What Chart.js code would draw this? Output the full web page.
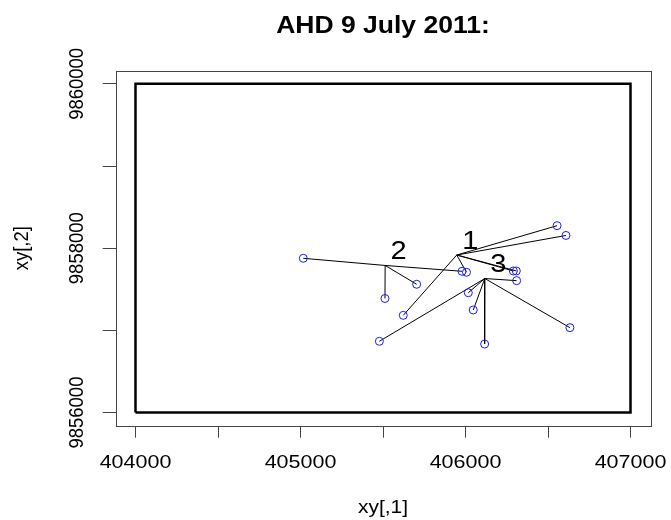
<!DOCTYPE html>
<html><head><meta charset="utf-8">
<script src="https://cdn.jsdelivr.net/npm/chart.js@4.4.0/dist/chart.umd.min.js"></script>
<style>html,body{margin:0;padding:0;background:#fff;}canvas{display:block;}</style>
</head><body>
<canvas id="c" width="671" height="520"></canvas>
<script>
// ---- text ----
const chartTitle = 'AHD 9 July 2011:';
const xAxisTitle = 'xy[,1]';
const yAxisTitle = 'xy[,2]';
// ---- axis ranges / ticks ----
const xRange = [403880, 407120];
const yRange = [9855840, 9860160];
const xTickValues = [404000, 404500, 405000, 405500, 406000, 406500, 407000];
const xTickLabels = [404000, 405000, 406000, 407000];
const yTickValues = [9856000, 9857000, 9858000, 9859000, 9860000];
const yTickLabels = [9856000, 9858000, 9860000];
// ---- bounding rectangle ----
const boxX = [404000, 407000, 407000, 404000, 404000];
const boxY = [9856000, 9856000, 9860000, 9860000, 9856000];
// ---- hubs (cluster centres) ----
const hubLabels = ['1', '2', '3'];
const hubX = [405947, 405513, 406117];
const hubY = [9857917, 9857790, 9857631];
// ---- points and the hub each belongs to ----
const ptX   = [405017, 405512, 405704, 405979, 405623, 406006, 406555, 406609, 406290, 406308, 406310, 406017, 406047, 406116, 406633, 405478];
const ptY   = [9857877, 9857388, 9857561, 9857719, 9857183, 9857707, 9858274, 9858155, 9857723, 9857723, 9857605, 9857458, 9857248, 9856834, 9857033, 9856867];
const ptHub = [1, 1, 1, 1, 0, 0, 0, 0, 0, 0, 2, 2, 2, 2, 2, 2];

const FONT = '"Liberation Sans", Arial, sans-serif';
const SQ = 0.88;

const boxData = boxX.map((x, i) => ({x, y: boxY[i]}));
const pointData = ptX.map((x, i) => ({x, y: ptY[i]}));
const spokeData = [];
ptX.forEach((x, i) => {
  const h = ptHub[i];
  spokeData.push({x: hubX[h], y: hubY[h]});
  spokeData.push({x, y: ptY[i]});
  spokeData.push({x: hubX[h], y: null});
});

function drawText(ctx, s, x, y, font, o) {
  o = o || {};
  ctx.save();
  ctx.translate(x, y);
  ctx.scale(o.sx || 1, o.sy || 1);
  if (o.rot) ctx.rotate(o.rot);
  ctx.font = font;
  ctx.fillStyle = o.color || '#000';
  ctx.textAlign = o.align || 'center';
  ctx.textBaseline = o.base || 'alphabetic';
  ctx.fillText(s, 0, 0);
  ctx.restore();
}

const decor = {
  id: 'decor',
  beforeDatasetsDraw(chart) {
    const {ctx, chartArea: a} = chart;
    ctx.save();
    ctx.strokeStyle = '#444';
    ctx.lineWidth = 1;
    ctx.strokeRect(Math.round(a.left) + 0.5, Math.round(a.top) + 0.5, Math.round(a.right - a.left), Math.round(a.bottom - a.top));
    ctx.restore();
  },
  afterDraw(chart) {
    const {ctx, chartArea: a, scales} = chart;
    const cx = (a.left + a.right) / 2;
    drawText(ctx, chartTitle, cx, 33.3, 'bold 26.5px ' + FONT, {sy: SQ});
    drawText(ctx, xAxisTitle, cx, 513, '21px ' + FONT, {sy: SQ});
    drawText(ctx, yAxisTitle, 27.5, (a.top + a.bottom) / 2, '21px ' + FONT, {sy: SQ, rot: -Math.PI / 2});
    yTickLabels.forEach(v => {
      drawText(ctx, String(v), 83, scales.y.getPixelForValue(v), '21px ' + FONT, {sy: SQ, rot: -Math.PI / 2});
    });
    xTickLabels.forEach(v => {
      drawText(ctx, String(v), scales.x.getPixelForValue(v), 467.5, '21.5px ' + FONT, {sy: SQ});
    });
    hubLabels.forEach((lab, i) => {
      const px = scales.x.getPixelForValue(hubX[i]);
      const py = scales.y.getPixelForValue(hubY[i]);
      drawText(ctx, lab, px + 13.5, py - 6.5, '29px ' + FONT, {sy: SQ});
    });
  }
};

new Chart(document.getElementById('c'), {
  type: 'scatter',
  data: {
    datasets: [
      {data: pointData, showLine: false, pointRadius: 4, pointHoverRadius: 4, pointBorderWidth: 1,
       pointBorderColor: '#1a1aff', pointBackgroundColor: 'rgba(0,0,0,0)', order: 0},
      {data: spokeData, showLine: true, spanGaps: false, pointRadius: 0, borderColor: '#000', borderWidth: 1, order: 1},
      {data: boxData, showLine: true, pointRadius: 0, borderColor: '#000', borderWidth: 2.5, order: 2}
    ]
  },
  options: {
    responsive: false,
    animation: false,
    events: [],
    layout: {padding: {top: 70.7, right: 20.7, left: 0, bottom: 0}},
    plugins: {legend: {display: false}, tooltip: {enabled: false}, title: {display: false}},
    scales: {
      x: {
        type: 'linear', min: xRange[0], max: xRange[1],
        border: {display: false},
        grid: {display: true, drawOnChartArea: false, drawTicks: true, tickLength: 12, color: '#444', lineWidth: 1},
        ticks: {display: false},
        afterBuildTicks: s => { s.ticks = xTickValues.map(v => ({value: v})); },
        afterFit: s => { s.height = 520 - 425.7; }
      },
      y: {
        type: 'linear', min: yRange[0], max: yRange[1],
        border: {display: false},
        grid: {display: true, drawOnChartArea: false, drawTicks: true, tickLength: 13, color: '#444', lineWidth: 1},
        ticks: {display: false},
        afterBuildTicks: s => { s.ticks = yTickValues.map(v => ({value: v})); },
        afterFit: s => { s.width = 115.7; }
      }
    }
  },
  plugins: [decor]
});
</script>
</body></html>
